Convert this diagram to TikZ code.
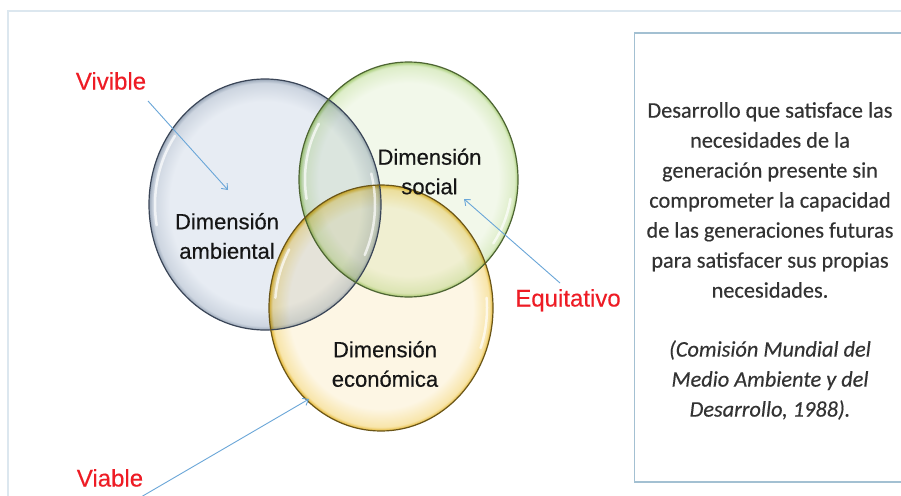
\documentclass[tikz,border=0pt]{standalone}
\usepackage{fontspec}
\setmainfont{Liberation Sans}
\newfontfamily\calfont[FakeBold=0.35]{Carlito}
\newfontfamily\labfont[FakeBold=0.45]{Liberation Sans}
\newfontfamily\redfont[FakeBold=0.25]{Liberation Sans}
\usetikzlibrary{arrows.meta}
\definecolor{bIn}{HTML}{E7ECF3}
\definecolor{bMid}{HTML}{CDD5E0}
\definecolor{bOut}{HTML}{9AA7B8}
\definecolor{bStroke}{HTML}{3A4557}
\definecolor{gIn}{HTML}{F2F8EA}
\definecolor{gMid}{HTML}{DDEDC8}
\definecolor{gOut}{HTML}{A6CC76}
\definecolor{gStroke}{HTML}{4D6433}
\definecolor{yIn}{HTML}{FDF6E4}
\definecolor{yMid}{HTML}{F8E5AA}
\definecolor{yOut}{HTML}{E3B42E}
\definecolor{yStroke}{HTML}{6A5518}
\definecolor{arrowblue}{HTML}{6AA6D8}
\definecolor{labelred}{HTML}{EE1C25}
\definecolor{textdark}{HTML}{161616}
\definecolor{boxtextgray}{HTML}{333333}
\definecolor{frameline}{HTML}{DCE7EF}
\definecolor{boxline}{HTML}{A3C0D2}
\pgfdeclareradialshading{blueball}{\pgfpoint{0bp}{0bp}}{color(0bp)=(bIn); color(20.5bp)=(bIn); color(24.2bp)=(bMid); color(25bp)=(bOut); color(50bp)=(bOut)}
\pgfdeclareradialshading{greenball}{\pgfpoint{0bp}{0bp}}{color(0bp)=(gIn); color(20.5bp)=(gIn); color(24.2bp)=(gMid); color(25bp)=(gOut); color(50bp)=(gOut)}
\pgfdeclareradialshading{yellowball}{\pgfpoint{0bp}{0bp}}{color(0bp)=(yIn); color(20.5bp)=(yIn); color(24.2bp)=(yMid); color(25bp)=(yOut); color(50bp)=(yOut)}
\begin{document}
\begin{tikzpicture}[x=1pt,y=-1pt,
  dimlabel/.style={align=center, text=textdark, inner sep=0pt,
    font=\labfont\fontsize{22}{29.5}\selectfont},
  redlabel/.style={text=labelred, inner sep=0pt, text height=17pt, text depth=0pt,
    font=\redfont\fontsize{24}{28}\selectfont},
  boxtext/.style={align=center, text=boxtextgray, inner sep=0pt,
    font=\calfont\fontsize{22.3}{30}\selectfont},
  pointer/.style={draw=arrowblue, line width=0.9pt, -{Straight Barb[length=5pt,width=8pt]}},
  gloss/.style={draw=white, line width=2.5pt, opacity=0.7, line cap=round},
  ring/.style={line width=1.2pt}]
\useasboundingbox (0,0) rectangle (901,495);
\fill[white] (0,0) rectangle (901,495);
\begin{scope}
\clip (0,0) rectangle (901,495);
% outer frame
\draw[draw=frameline, line width=1.6pt] (8,11) rectangle (930,530);
% definition box
\draw[draw=boxline, line width=1.5pt] (634.5,33) rectangle (906,482);

% circle centres
\coordinate (cb) at (265,204.5);
\coordinate (cg) at (408.5,179.5);
\coordinate (cy) at (381,308);

% fills (multiplied so overlaps darken)
\shade[shading=blueball, blend mode=multiply] (cb) ellipse [x radius=116, y radius=125.5];
\shade[shading=greenball, blend mode=multiply] (cg) ellipse [x radius=109.5, y radius=117.5];
\shade[shading=yellowball, blend mode=multiply] (cy) ellipse [x radius=112, y radius=123];

% gloss highlights
\draw[gloss] (cb) ++(170:110 and 119.5) arc[start angle=170, end angle=215, x radius=110, y radius=119.5];
\draw[gloss] (cb) ++(-15:110 and 119.5) arc[start angle=-15, end angle=25, x radius=110, y radius=119.5];
\draw[gloss] (cg) ++(170:103.5 and 111.5) arc[start angle=170, end angle=210, x radius=103.5, y radius=111.5];
\draw[gloss] (cg) ++(10:103.5 and 111.5) arc[start angle=10, end angle=35, x radius=103.5, y radius=111.5];
\draw[gloss] (cy) ++(185:106 and 117) arc[start angle=185, end angle=210, x radius=106, y radius=117];
\draw[gloss] (cy) ++(-5:106 and 117) arc[start angle=-5, end angle=20, x radius=106, y radius=117];

% outlines
\draw[ring, draw=bStroke] (cb) ellipse [x radius=116, y radius=125.5];
\draw[ring, draw=gStroke] (cg) ellipse [x radius=109.5, y radius=117.5];
\draw[ring, draw=yStroke] (cy) ellipse [x radius=112, y radius=123];

% circle labels
\node[dimlabel] (amb) at (227,236) {Dimensión\\ambiental};
\node[dimlabel] (soc) at (429.5,171.5) {Dimensión\\social};
\node[dimlabel] (eco) at (385,364) {Dimensión\\económica};

% red labels
\node[redlabel] (viv) at (111,81) {Vivible};
\node[redlabel] (equ) at (568,298) {Equitativo};
\node[redlabel] (via) at (110,478) {Viable};

% arrow ends
\coordinate (vivS) at (148,101);
\coordinate (vivE) at (228,190);
\coordinate (equS) at (560,283);
\coordinate (equE) at (464,199);
\coordinate (viaS) at (141,497);
\coordinate (viaE) at (309,399);
\draw[pointer] (vivS) -- (vivE);
\draw[pointer] (equS) -- (equE);
\draw[pointer] (viaS) -- (viaE);

% definition text
\node[boxtext] (defn) at (770,200) {Desarrollo que satisface las\\necesidades de la\\generación presente sin\\comprometer la capacidad\\de las generaciones futuras\\para satisfacer sus propias\\necesidades.};
\node[boxtext, font=\calfont\itshape\fontsize{22.3}{30}\selectfont] (cite) at (770,380) {(Comisión Mundial del\\Medio Ambiente y del\\Desarrollo, 1988).};
\end{scope}
\end{tikzpicture}
\end{document}
